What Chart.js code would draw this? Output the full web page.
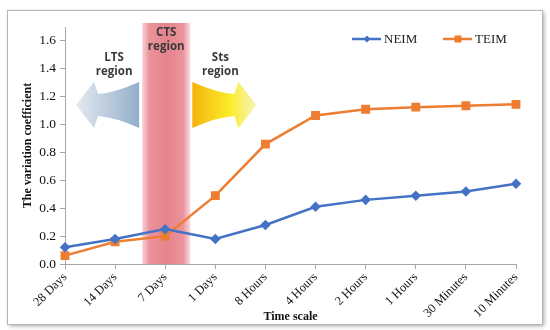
<!DOCTYPE html>
<html>
<head>
<meta charset="utf-8">
<script src="https://cdn.jsdelivr.net/npm/chart.js@4"></script>
<style>
  html, body { margin: 0; padding: 0; background: #fff; }
  #wrap { width: 550px; height: 330px; position: relative; }
</style>
</head>
<body>
<div id="wrap"><canvas id="cv-chart"></canvas></div>
<script>
// data
const categories = ['28 Days', '14 Days', '7 Days', '1 Days', '8 Hours', '4 Hours', '2 Hours', '1 Hours', '30 Minutes', '10 Minutes'];
const neimValues = [0.12, 0.18, 0.25, 0.18, 0.28, 0.41, 0.46, 0.49, 0.52, 0.575];
const teimValues = [0.06, 0.16, 0.20, 0.49, 0.86, 1.065, 1.11, 1.125, 1.135, 1.145];
const yTickValues = [0, 0.2, 0.4, 0.6, 0.8, 1.0, 1.2, 1.4, 1.6];
const seriesNames = ['NEIM', 'TEIM'];

const blue = '#4472C4';
const orange = '#ED7D31';
const serif = "'Liberation Serif', 'Times New Roman', serif";
const sans = "'Open Sans', 'Liberation Sans', sans-serif";

// white panel with a drop shadow, like the exported figure frame
const framePlugin = {
  id: 'frame',
  beforeDraw(chart) {
    const c = chart.ctx;
    c.save();
    c.fillStyle = '#fff';
    c.fillRect(0, 0, chart.width, chart.height);
    c.shadowColor = 'rgba(0,0,0,0.35)';
    c.shadowBlur = 4;
    c.shadowOffsetX = 2;
    c.shadowOffsetY = 2;
    c.fillRect(7, 10, 535, 314);
    c.shadowColor = 'transparent';
    c.strokeStyle = '#b5b5b5';
    c.lineWidth = 1;
    c.strokeRect(7.5, 10.5, 535, 314);
    c.restore();
  }
};

// CTS band plus the LTS / Sts arrows, placed from the x scale
const regionsPlugin = {
  id: 'regions',
  beforeDatasetsDraw(chart) {
    const c = chart.ctx;
    const x = chart.scales.x;
    const area = chart.chartArea;
    const x0 = x.getPixelForValue(1.54);
    const x1 = x.getPixelForValue(2.5);
    const top = 23;
    c.save();

    let g = c.createLinearGradient(x0, 0, x1, 0);
    g.addColorStop(0, 'rgba(228,110,122,0.3)');
    g.addColorStop(0.15, 'rgba(228,110,122,0.75)');
    g.addColorStop(0.5, 'rgba(224,100,112,0.8)');
    g.addColorStop(0.85, 'rgba(228,110,122,0.75)');
    g.addColorStop(1, 'rgba(228,110,122,0.25)');
    c.fillStyle = g;
    c.fillRect(x0, top, x1 - x0, area.bottom - top);

    const cy = 105, hh = 23;
    // left arrow (LTS)
    const lx0 = x0 - 3, lTip = x.getPixelForValue(0.22);
    g = c.createLinearGradient(lTip, 0, lx0, 0);
    g.addColorStop(0, 'rgba(225,230,238,0.9)');
    g.addColorStop(1, 'rgba(140,170,200,0.95)');
    c.fillStyle = g;
    c.beginPath();
    c.moveTo(lx0, cy - hh);
    c.quadraticCurveTo(lx0 - 25, cy - 12, lTip + 22, cy - 11);
    c.lineTo(lTip + 18, cy - hh);
    c.lineTo(lTip, cy);
    c.lineTo(lTip + 18, cy + hh);
    c.lineTo(lTip + 22, cy + 11);
    c.quadraticCurveTo(lx0 - 25, cy + 12, lx0, cy + hh);
    c.closePath();
    c.fill();

    // right arrow (Sts)
    const rx0 = x1 + 2, rTip = x.getPixelForValue(3.82);
    g = c.createLinearGradient(rx0, 0, rTip, 0);
    g.addColorStop(0, 'rgba(245,175,0,0.95)');
    g.addColorStop(0.6, 'rgba(250,235,20,0.9)');
    g.addColorStop(1, 'rgba(245,240,170,0.8)');
    c.fillStyle = g;
    c.beginPath();
    c.moveTo(rx0, cy - hh);
    c.quadraticCurveTo(rx0 + 25, cy - 12, rTip - 22, cy - 11);
    c.lineTo(rTip - 18, cy - hh);
    c.lineTo(rTip, cy);
    c.lineTo(rTip - 18, cy + hh);
    c.lineTo(rTip - 22, cy + 11);
    c.quadraticCurveTo(rx0 + 25, cy + 12, rx0, cy + hh);
    c.closePath();
    c.fill();

    c.fillStyle = '#3a3a3a';
    c.font = 'bold 11.5px ' + sans;
    c.textAlign = 'center';
    c.textBaseline = 'middle';
    const mid = (x0 + x1) / 2;
    c.fillText('CTS', mid, 33);
    c.fillText('region', mid, 47);
    const lMid = x.getPixelForValue(0.98);
    c.fillText('LTS', lMid, 58);
    c.fillText('region', lMid, 72);
    const rMid = x.getPixelForValue(3.1);
    c.fillText('Sts', rMid, 58);
    c.fillText('region', rMid, 72);
    c.restore();
  }
};

// legend entries: short line with the series marker in the middle
const legendPlugin = {
  id: 'lineLegend',
  afterDraw(chart) {
    const c = chart.ctx;
    const spots = [367, 458];
    c.save();
    chart.data.datasets.forEach((ds, i) => {
      const cx = spots[i], cy = 39;
      c.strokeStyle = ds.borderColor;
      c.lineWidth = 2.5;
      c.beginPath();
      c.moveTo(cx - 15, cy);
      c.lineTo(cx + 14, cy);
      c.stroke();
      c.fillStyle = ds.borderColor;
      if (ds.pointStyle === 'rect') {
        c.fillRect(cx - 3.5, cy - 3.5, 7, 7);
      } else {
        c.beginPath();
        c.moveTo(cx, cy - 3.5);
        c.lineTo(cx + 3.5, cy);
        c.lineTo(cx, cy + 3.5);
        c.lineTo(cx - 3.5, cy);
        c.closePath();
        c.fill();
      }
      c.fillStyle = '#222';
      c.font = '13px ' + serif;
      c.textAlign = 'left';
      c.textBaseline = 'middle';
      c.fillText(ds.label, cx + 17, cy + 1);
    });
    c.restore();
  }
};

const ctx = document.getElementById('cv-chart').getContext('2d');
new Chart(ctx, {
  type: 'line',
  data: {
    labels: categories,
    datasets: [{
      label: seriesNames[0],
      data: neimValues,
      borderColor: blue,
      backgroundColor: blue,
      borderWidth: 2.5,
      pointStyle: 'rectRot',
      pointRadius: 3.5,
      tension: 0
    }, {
      label: seriesNames[1],
      data: teimValues,
      borderColor: orange,
      backgroundColor: orange,
      borderWidth: 2.5,
      pointStyle: 'rect',
      pointRadius: 4.5,
      tension: 0
    }]
  },
  options: {
    responsive: true,
    maintainAspectRatio: false,
    animation: false,
    layout: { padding: { left: 0, right: 34, top: 27, bottom: 0 } },
    plugins: {
      legend: { display: false },
      tooltip: { enabled: false }
    },
    scales: {
      x: {
        offset: false,
        afterFit(axis) { axis.height = 66; },
        grid: { display: true, drawOnChartArea: false, tickLength: 5, color: '#a6a6a6' },
        border: { color: '#a6a6a6', width: 1 },
        ticks: {
          autoSkip: false,
          maxRotation: 45,
          minRotation: 45,
          padding: 1,
          color: '#111',
          font: { family: serif, size: 12.5 }
        },
        title: {
          display: true,
          text: 'Time scale',
          color: '#111',
          font: { family: serif, size: 12, weight: 'bold' },
          padding: { top: 0, bottom: 6 }
        }
      },
      y: {
        min: 0,
        max: 1.7,
        afterFit(axis) { axis.width = 65; },
        afterBuildTicks(axis) { axis.ticks = yTickValues.map(v => ({ value: v })); },
        grid: { display: true, drawOnChartArea: false, tickLength: 5, color: '#a6a6a6' },
        border: { color: '#a6a6a6', width: 1 },
        ticks: {
          padding: 4,
          color: '#111',
          font: { family: serif, size: 13.5 },
          callback: v => Number(v).toFixed(1)
        },
        title: {
          display: true,
          text: 'The variation coefficient',
          color: '#111',
          font: { family: serif, size: 12, weight: 'bold' },
          padding: { top: 21, bottom: 0 }
        }
      }
    }
  },
  plugins: [framePlugin, regionsPlugin, legendPlugin]
});
</script>
</body>
</html>
